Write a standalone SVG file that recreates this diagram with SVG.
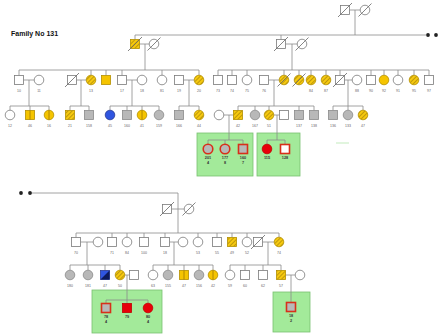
<svg xmlns="http://www.w3.org/2000/svg" width="440" height="335" viewBox="0 0 440 335">
<defs>
<pattern id="ht" patternUnits="userSpaceOnUse" width="3" height="3" patternTransform="rotate(-45)">
<rect width="3" height="3" fill="#f6c90e"/>
<rect width="3" height="0.9" fill="#b8930a"/>
</pattern>
<style>
.ln{stroke:#8a8a8a;stroke-width:.8;fill:none}
.w{fill:#fff;stroke:#7a7a7a;stroke-width:.8}
.y{fill:#f5c400;stroke:#b38f00;stroke-width:.8}
.h{fill:url(#ht);stroke:#b38f00;stroke-width:.8}
.g{fill:#b8b8b8;stroke:#8a8a8a;stroke-width:.8}
.b{fill:#2f55e0;stroke:#2a3a90;stroke-width:.8}
.r{fill:#e8000a;stroke:#c00000;stroke-width:.8}
.rb{stroke:#d8301a;stroke-width:1.6}
.d{stroke:#666;stroke-width:.8}
.v{stroke:#a07800;stroke-width:.8}
.lb{font-family:"Liberation Sans",Arial,sans-serif;font-size:3.5px;fill:#666;text-anchor:middle}
.lk{font-family:"Liberation Sans",Arial,sans-serif;font-size:3.8px;font-weight:bold;fill:#333;text-anchor:middle}
.bx{fill:#a3ea9a;stroke:#79c070;stroke-width:.8}
.dot{fill:#222}
</style>
</defs>
<rect width="440" height="335" fill="#fff"/>
<text x="11" y="36" font-family="Liberation Sans, Arial, sans-serif" font-size="7" font-weight="bold" fill="#111">Family No 131</text>

<g id="boxes">
<rect class="bx" x="197" y="133" width="56" height="43"/>
<rect class="bx" x="257" y="133" width="43" height="43"/>
<rect class="bx" x="92" y="290" width="70" height="43"/>
<rect class="bx" x="273" y="292" width="37" height="40"/>
<line x1="336" y1="143" x2="349" y2="143" stroke="#cdeec8" stroke-width="1.2"/>
</g>

<g id="connectors" class="ln">
<path d="M349.5 10H360.2M355 10V35M135 35H426M135 35V39.5M281 35V39.5"/>
<path d="M139.5 44H149.2M145 44V70M285.5 44H297.2M292 44V70"/>
<path d="M19 70H199M19 70V75.5M91 70V75.2M106 70V75.5M122 70V75.5M162 70V75.2M199 70V75.2"/>
<path d="M218 70H429M218 70V75.5M232 70V75.5M247 70V75.2M284 70V75.2M299 70V75.2M311 70V75.2M326 70V75.2M340 70V75.5M371 70V75.5M384 70V75.2M398 70V75.2M414 70V75.2M429 70V75.5"/>
<path d="M23.5 80H34.2M29 80V106M76.5 80H86.2M81 80V106M126.5 80H137.2M132 80V106M183.5 80H194.2M189 80V106M268.5 80H279.2M274 80V106M344.5 80H352.2M348 80V106"/>
<path d="M10 106H49M10 106V110.2M30 106V110.5M49 106V110.2M70 106H89M70 106V110.5M89 106V110.5M110 106H159M110 106V110.2M127 106V110.5M142 106V110.2M159 106V110.2M179 106H199M179 106V110.5M199 106V110.2M238 106H314M238 106V110.5M255 106V110.2M269 106V110.2M299 106V110.5M314 106V110.5M333 106H363M333 106V110.5M348 106V110.2M363 106V110.2"/>
<path d="M223.8 115H233.5M229 115V140M273.8 115H279.5M277 115V140"/>
<path d="M208 140H243M208 140V144.2M225 140V144.2M243 140V144.5M267 140H285M267 140V144.2M285 140V144.5"/>
<path d="M30 193H178V209M171.5 209H184.2M178 209V233"/>
<path d="M76 233H279M76 233V237.5M112 233V237.5M127 233V237.2M144 233V237.5M165 233V237.5M198 233V237.2M217 233V237.5M232 233V237.5M247 233V237.2M279 233V237.2"/>
<path d="M80.5 242H93.2M87 242V265M169.5 242H178.2M174 242V265M262.5 242H274.2M268 242V265"/>
<path d="M70 265H120M70 265V270.2M88 265V270.2M105 265V270.5M120 265V270.2M153 265H213M153 265V270.2M168 265V270.2M184 265V270.5M199 265V270.2M213 265V270.2M230 265H281M230 265V270.2M245 265V270.5M263 265V270.5M281 265V270.5"/>
<path d="M124.8 275H129.5M127 275V300M285.5 275H295.2M291 275V302.5"/>
<path d="M106 300H148M106 300V303.5M127 300V303.5M148 300V303.2"/>
<circle class="dot" cx="428" cy="35" r="1.9" stroke="none"/>
<circle class="dot" cx="436" cy="35" r="1.9" stroke="none"/>
<circle class="dot" cx="21" cy="193" r="1.9" stroke="none"/>
<circle class="dot" cx="30" cy="193" r="1.9" stroke="none"/>
</g>

<!-- Generation I -->
<g id="I-1"><rect class="w" x="340.5" y="5.5" width="9" height="9"/><line class="d" x1="338" y1="17" x2="352" y2="3"/></g>
<g id="I-2"><circle class="w" cx="365" cy="10" r="4.8"/><line class="d" x1="358.5" y1="16.5" x2="371.5" y2="3.5"/></g>

<!-- Generation II -->
<g id="II-1"><rect class="h" x="130.5" y="39.5" width="9" height="9"/><line class="d" x1="128" y1="51" x2="142" y2="37"/></g>
<g id="II-2"><circle class="w" cx="154" cy="44" r="4.8"/><line class="d" x1="147.5" y1="50.5" x2="160.5" y2="37.5"/></g>
<g id="II-3"><rect class="w" x="276.5" y="39.5" width="9" height="9"/><line class="d" x1="274" y1="51" x2="288" y2="37"/></g>
<g id="II-4"><circle class="w" cx="302" cy="44" r="4.8"/><line class="d" x1="295.5" y1="50.5" x2="308.5" y2="37.5"/></g>

<!-- Generation III top -->
<g id="III-1"><rect class="w" x="14.5" y="75.5" width="9" height="9"/><text class="lb" x="19" y="92">10</text></g>
<g id="III-2"><circle class="w" cx="39" cy="80" r="4.8"/><text class="lb" x="39" y="92">11</text></g>
<g id="III-3"><rect class="w" x="67.5" y="75.5" width="9" height="9"/><line class="d" x1="65" y1="87" x2="79" y2="73"/></g>
<g id="III-4"><circle class="h" cx="91" cy="80" r="4.8"/><text class="lb" x="91" y="92">13</text></g>
<g id="III-5"><rect class="y" x="101.5" y="75.5" width="9" height="9"/></g>
<g id="III-6"><rect class="w" x="117.5" y="75.5" width="9" height="9"/><text class="lb" x="122" y="92">17</text></g>
<g id="III-7"><circle class="w" cx="142" cy="80" r="4.8"/><text class="lb" x="142" y="92">18</text></g>
<g id="III-8"><circle class="w" cx="162" cy="80" r="4.8"/><text class="lb" x="162" y="92">81</text></g>
<g id="III-9"><rect class="w" x="174.5" y="75.5" width="9" height="9"/><text class="lb" x="179" y="92">19</text></g>
<g id="III-10"><circle class="h" cx="199" cy="80" r="4.8"/><text class="lb" x="199" y="92">20</text></g>
<g id="III-11"><rect class="w" x="213.5" y="75.5" width="9" height="9"/><text class="lb" x="218" y="92">73</text></g>
<g id="III-12"><rect class="w" x="227.5" y="75.5" width="9" height="9"/><text class="lb" x="232" y="92">74</text></g>
<g id="III-13"><circle class="w" cx="247" cy="80" r="4.8"/><text class="lb" x="247" y="92">75</text></g>
<g id="III-14"><rect class="w" x="259.5" y="75.5" width="9" height="9"/><text class="lb" x="264" y="92">76</text></g>
<g id="III-15"><circle class="h" cx="284" cy="80" r="4.8"/><line class="d" x1="277.5" y1="86.5" x2="290.5" y2="73.5"/></g>
<g id="III-16"><circle class="h" cx="299" cy="80" r="4.8"/><line class="d" x1="292.5" y1="86.5" x2="305.5" y2="73.5"/></g>
<g id="III-17"><circle class="h" cx="311" cy="80" r="4.8"/><text class="lb" x="311" y="92">84</text></g>
<g id="III-18"><circle class="h" cx="326" cy="80" r="4.8"/><text class="lb" x="326" y="92">87</text></g>
<g id="III-19"><rect class="w" x="335.5" y="75.5" width="9" height="9"/><line class="d" x1="333" y1="87" x2="347" y2="73"/></g>
<g id="III-20"><circle class="w" cx="357" cy="80" r="4.8"/><text class="lb" x="357" y="92">88</text></g>
<g id="III-21"><rect class="w" x="366.5" y="75.5" width="9" height="9"/><text class="lb" x="371" y="92">90</text></g>
<g id="III-22"><circle class="y" cx="384" cy="80" r="4.8"/><text class="lb" x="384" y="92">92</text></g>
<g id="III-23"><circle class="w" cx="398" cy="80" r="4.8"/><text class="lb" x="398" y="92">91</text></g>
<g id="III-24"><circle class="h" cx="414" cy="80" r="4.8"/><text class="lb" x="414" y="92">95</text></g>
<g id="III-25"><rect class="w" x="424.5" y="75.5" width="9" height="9"/><text class="lb" x="429" y="92">97</text></g>

<!-- Generation IV top -->
<g id="IV-1"><circle class="w" cx="10" cy="115" r="4.8"/><text class="lb" x="10" y="127">12</text></g>
<g id="IV-2"><rect class="y" x="25.5" y="110.5" width="9" height="9"/><line class="v" x1="30" y1="110.5" x2="30" y2="119.5"/><text class="lb" x="30" y="127">46</text></g>
<g id="IV-3"><circle class="y" cx="49" cy="115" r="4.8"/><line class="v" x1="49" y1="110.2" x2="49" y2="119.8"/><text class="lb" x="49" y="127">16</text></g>
<g id="IV-4"><rect class="h" x="65.5" y="110.5" width="9" height="9"/><text class="lb" x="70" y="127">21</text></g>
<g id="IV-5"><rect class="g" x="84.5" y="110.5" width="9" height="9"/><text class="lb" x="89" y="127">158</text></g>
<g id="IV-6"><circle class="b" cx="110" cy="115" r="4.8"/><text class="lb" x="110" y="127">45</text></g>
<g id="IV-7"><rect class="g" x="122.5" y="110.5" width="9" height="9"/><text class="lb" x="127" y="127">160</text></g>
<g id="IV-8"><circle class="y" cx="142" cy="115" r="4.8"/><line class="v" x1="142" y1="110.2" x2="142" y2="119.8"/><text class="lb" x="142" y="127">41</text></g>
<g id="IV-9"><circle class="g" cx="159" cy="115" r="4.8"/><text class="lb" x="159" y="127">159</text></g>
<g id="IV-10"><rect class="g" x="174.5" y="110.5" width="9" height="9"/><text class="lb" x="179" y="127">166</text></g>
<g id="IV-11"><circle class="h" cx="199" cy="115" r="4.8"/><text class="lb" x="199" y="127">44</text></g>
<g id="IV-12"><circle class="w" cx="219" cy="115" r="4.8"/></g>
<g id="IV-13"><rect class="h" x="233.5" y="110.5" width="9" height="9"/><text class="lb" x="238" y="127">42</text></g>
<g id="IV-14"><circle class="g" cx="255" cy="115" r="4.8"/><text class="lb" x="255" y="127">167</text></g>
<g id="IV-15"><circle class="h" cx="269" cy="115" r="4.8"/><text class="lb" x="269" y="127">51</text></g>
<g id="IV-16"><rect class="w" x="279.5" y="110.5" width="9" height="9"/></g>
<g id="IV-17"><rect class="g" x="294.5" y="110.5" width="9" height="9"/><text class="lb" x="299" y="127">137</text></g>
<g id="IV-18"><rect class="g" x="309.5" y="110.5" width="9" height="9"/><text class="lb" x="314" y="127">138</text></g>
<g id="IV-19"><rect class="g" x="328.5" y="110.5" width="9" height="9"/><text class="lb" x="333" y="127">136</text></g>
<g id="IV-20"><circle class="g" cx="348" cy="115" r="4.8"/><text class="lb" x="348" y="127">133</text></g>
<g id="IV-21"><circle class="h" cx="363" cy="115" r="4.8"/><text class="lb" x="363" y="127">47</text></g>

<!-- Generation V top (boxes) -->
<g id="V-1"><circle class="g rb" cx="208" cy="149" r="4.8"/><text class="lk" x="208" y="159">201</text><text class="lk" x="208" y="164">4</text></g>
<g id="V-2"><circle class="g rb" cx="225" cy="149" r="4.8"/><text class="lk" x="225" y="159">177</text><text class="lk" x="225" y="164">8</text></g>
<g id="V-3"><rect class="g rb" x="238.5" y="144.5" width="9" height="9"/><text class="lk" x="243" y="159">160</text><text class="lk" x="243" y="164">7</text></g>
<g id="V-4"><circle class="r" cx="267" cy="149" r="4.8"/><text class="lk" x="267" y="159">115</text></g>
<g id="V-5"><rect class="w rb" x="280.5" y="144.5" width="9" height="9"/><text class="lk" x="285" y="159">128</text></g>

<!-- Bottom section -->
<g id="B-I-1"><rect class="w" x="162.5" y="204.5" width="9" height="9"/><line class="d" x1="160" y1="216" x2="174" y2="202"/></g>
<g id="B-I-2"><circle class="w" cx="189" cy="209" r="4.8"/><line class="d" x1="182.5" y1="215.5" x2="195.5" y2="202.5"/></g>

<g id="B-II-1"><rect class="w" x="71.5" y="237.5" width="9" height="9"/><text class="lb" x="76" y="254">70</text></g>
<g id="B-II-2"><circle class="w" cx="98" cy="242" r="4.8"/></g>
<g id="B-II-3"><rect class="w" x="107.5" y="237.5" width="9" height="9"/><text class="lb" x="112" y="254">71</text></g>
<g id="B-II-4"><circle class="w" cx="127" cy="242" r="4.8"/><text class="lb" x="127" y="254">84</text></g>
<g id="B-II-5"><rect class="w" x="139.5" y="237.5" width="9" height="9"/><text class="lb" x="144" y="254">100</text></g>
<g id="B-II-6"><rect class="w" x="160.5" y="237.5" width="9" height="9"/><text class="lb" x="165" y="254">18</text></g>
<g id="B-II-7"><circle class="w" cx="183" cy="242" r="4.8"/></g>
<g id="B-II-8"><circle class="w" cx="198" cy="242" r="4.8"/><text class="lb" x="198" y="254">53</text></g>
<g id="B-II-9"><rect class="w" x="212.5" y="237.5" width="9" height="9"/><text class="lb" x="217" y="254">55</text></g>
<g id="B-II-10"><rect class="h" x="227.5" y="237.5" width="9" height="9"/><text class="lb" x="232" y="254">49</text></g>
<g id="B-II-11"><circle class="w" cx="247" cy="242" r="4.8"/><text class="lb" x="247" y="254">52</text></g>
<g id="B-II-12"><rect class="w" x="253.5" y="237.5" width="9" height="9"/><line class="d" x1="251" y1="249" x2="265" y2="235"/></g>
<g id="B-II-13"><circle class="h" cx="279" cy="242" r="4.8"/><text class="lb" x="279" y="254">74</text></g>

<g id="B-III-1"><circle class="g" cx="70" cy="275" r="4.8"/><text class="lb" x="70" y="287">180</text></g>
<g id="B-III-2"><circle class="g" cx="88" cy="275" r="4.8"/><text class="lb" x="88" y="287">181</text></g>
<g id="B-III-3"><rect class="b" x="100.5" y="270.5" width="9" height="9"/><polygon points="100.5,279.5 109.5,270.5 109.5,279.5" fill="#0d1a5a"/><text class="lb" x="105" y="287">47</text></g>
<g id="B-III-4"><circle class="h" cx="120" cy="275" r="4.8"/><text class="lb" x="120" y="287">50</text></g>
<g id="B-III-5"><rect class="w" x="129.5" y="270.5" width="9" height="9"/></g>
<g id="B-III-6"><circle class="w" cx="153" cy="275" r="4.8"/><text class="lb" x="153" y="287">63</text></g>
<g id="B-III-7"><circle class="g" cx="168" cy="275" r="4.8"/><text class="lb" x="168" y="287">155</text></g>
<g id="B-III-8"><rect class="y" x="179.5" y="270.5" width="9" height="9"/><line class="v" x1="184" y1="270.5" x2="184" y2="279.5"/><text class="lb" x="184" y="287">47</text></g>
<g id="B-III-9"><circle class="g" cx="199" cy="275" r="4.8"/><text class="lb" x="199" y="287">156</text></g>
<g id="B-III-10"><circle class="y" cx="213" cy="275" r="4.8"/><line class="v" x1="213" y1="270.2" x2="213" y2="279.8"/><text class="lb" x="213" y="287">42</text></g>
<g id="B-III-11"><circle class="w" cx="230" cy="275" r="4.8"/><text class="lb" x="230" y="287">59</text></g>
<g id="B-III-12"><rect class="w" x="240.5" y="270.5" width="9" height="9"/><text class="lb" x="245" y="287">60</text></g>
<g id="B-III-13"><rect class="w" x="258.5" y="270.5" width="9" height="9"/><text class="lb" x="263" y="287">62</text></g>
<g id="B-III-14"><rect class="h" x="276.5" y="270.5" width="9" height="9"/><text class="lb" x="281" y="287">57</text></g>
<g id="B-III-15"><circle class="w" cx="300" cy="275" r="4.8"/></g>

<g id="B-IV-1"><rect class="g rb" x="101.5" y="303.5" width="9" height="9"/><text class="lk" x="106" y="318">78</text><text class="lk" x="106" y="323">4</text></g>
<g id="B-IV-2"><rect class="r" x="122.5" y="303.5" width="9" height="9"/><text class="lk" x="127" y="318">79</text></g>
<g id="B-IV-3"><circle class="r" cx="148" cy="308" r="4.8"/><text class="lk" x="148" y="318">80</text><text class="lk" x="148" y="323">4</text></g>
<g id="B-IV-4"><rect class="g rb" x="286.5" y="302.5" width="9" height="9"/><text class="lk" x="291" y="317">18</text><text class="lk" x="291" y="322">2</text></g>
</svg>
